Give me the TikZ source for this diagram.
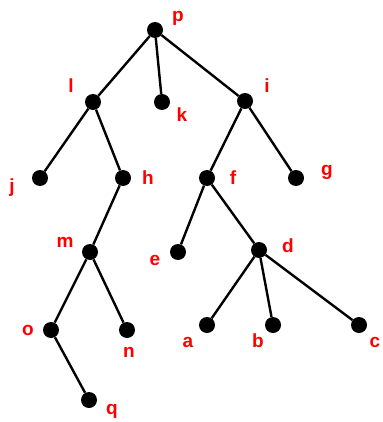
\documentclass[tikz,border=0pt]{standalone}
\usepackage{fontspec}
\setmainfont{Liberation Sans}
\usetikzlibrary{positioning}
\begin{document}
\begin{tikzpicture}[x=1pt, y=-1pt,
    vertex/.style={circle, fill=black, inner sep=0pt, minimum size=16pt},
    tag/.style={text=red, font=\fontsize{19}{19}\selectfont\bfseries, inner sep=0pt},
    edge/.style={line width=2.4pt}
]
\useasboundingbox (0,0) rectangle (382,422);
% vertices
\node[vertex] (p) at (155,30) {};
\node[vertex] (l) at (93,102) {};
\node[vertex] (k) at (162,102) {};
\node[vertex] (i) at (245,101) {};
\node[vertex] (j) at (40,178) {};
\node[vertex] (h) at (123,178) {};
\node[vertex] (f) at (207,178) {};
\node[vertex] (g) at (296,178) {};
\node[vertex] (m) at (90,252) {};
\node[vertex] (e) at (178,252) {};
\node[vertex] (d) at (259,250) {};
\node[vertex] (o) at (51,330) {};
\node[vertex] (n) at (127,330) {};
\node[vertex] (a) at (207,325) {};
\node[vertex] (b) at (273,325) {};
\node[vertex] (c) at (359,325) {};
\node[vertex] (q) at (89,400) {};
% edges
\foreach \from/\to in {p/l, p/k, p/i, l/j, l/h, h/m, m/o, m/n, o/q,
                       i/f, i/g, f/e, f/d, d/a, d/b, d/c}
    \draw[edge] (\from) -- (\to);
% labels
\node[tag] (p-tag) at (178,18) {p};
\node[tag] (l-tag) at (71,86) {l};
\node[tag] (k-tag) at (182,115) {k};
\node[tag] (i-tag) at (267,86) {i};
\node[tag] (j-tag) at (12,188) {j};
\node[tag] (h-tag) at (148,178) {h};
\node[tag] (f-tag) at (233,178) {f};
\node[tag] (g-tag) at (327,172) {g};
\node[tag] (m-tag) at (65,242) {m};
\node[tag] (e-tag) at (155,260) {e};
\node[tag] (d-tag) at (288,246) {d};
\node[tag] (o-tag) at (28,330) {o};
\node[tag] (n-tag) at (129,352) {n};
\node[tag] (a-tag) at (188,342) {a};
\node[tag] (b-tag) at (258,341) {b};
\node[tag] (c-tag) at (375,342) {c};
\node[tag] (q-tag) at (112,411) {q};
\end{tikzpicture}
\end{document}
